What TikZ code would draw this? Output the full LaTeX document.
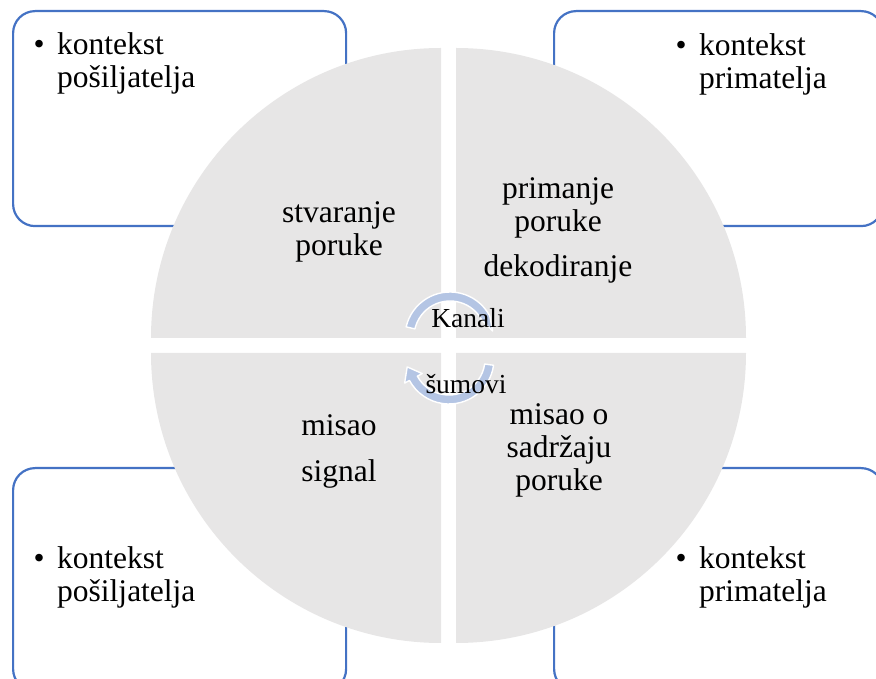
\documentclass[tikz,border=0pt]{standalone}
\usepackage{fontspec}
\setmainfont{Liberation Serif}
\definecolor{boxblue}{HTML}{4472C4}
\definecolor{quadgray}{HTML}{E7E6E6}
\definecolor{arrowblue}{HTML}{B4C5E4}
\begin{document}
\begin{tikzpicture}[x=1pt,y=1pt,
  ctxbox/.style={draw=boxblue, line width=2.2pt, fill=white, rounded corners=22pt,
                 minimum width=333pt, minimum height=215pt, inner sep=0pt},
  quad/.style={fill=quadgray},
  cyc/.style={fill=arrowblue, draw=white, line width=1.4pt, line join=round},
  bigtext/.style={inner sep=0pt, anchor=base, font=\fontsize{31.5}{33}\selectfont},
  boxtext/.style={inner sep=0pt, anchor=base west, font=\fontsize{31.5}{33}\selectfont},
  midtext/.style={inner sep=0pt, anchor=base, font=\fontsize{27.5}{30}\selectfont}
]
\useasboundingbox (0,0) rectangle (876,678);
% corner boxes
\node[ctxbox, anchor=north west] (boxTL) at (12,668) {};
\node[ctxbox, anchor=north west, minimum width=329pt] (boxTR) at (553,668) {};
\node[ctxbox, anchor=north west, minimum height=223pt] (boxBL) at (12,211) {};
\node[ctxbox, anchor=north west, minimum width=329pt, minimum height=223pt] (boxBR) at (553,211) {};
% quadrants
\fill[quad] (441,340) -- ++(-290,0) arc[start angle=180, end angle=90, radius=290] -- cycle;
\fill[quad] (456,340) -- ++(0,290) arc[start angle=90, end angle=0, radius=290] -- cycle;
\fill[quad] (441,325) -- ++(-290,0) arc[start angle=180, end angle=270, radius=290] -- cycle;
\fill[quad] (456,325) -- ++(290,0) arc[start angle=0, end angle=-90, radius=290] -- cycle;
% circular arrows
\coordinate (cu) at (450,341);
\coordinate (cl) at (449,319);
\path[cyc] ([shift={(167:45)}]cu) arc[start angle=167, end angle=28, radius=45]
  -- ([shift={(8:43)}]cu) -- ([shift={(28:36)}]cu)
  arc[start angle=28, end angle=167, radius=36] -- cycle;
\path[cyc] ([shift={(-8:45)}]cl) arc[start angle=-8, end angle=-151.5, radius=45]
  -- ([shift={(-151.5:50.5)}]cl) -- ([shift={(-41.8,-7.9)}]cl)
  -- ([shift={(-151.5:30.5)}]cl) -- ([shift={(-151.5:36)}]cl)
  arc[start angle=-151.5, end angle=-8, radius=36] -- cycle;
% box texts
\node[boxtext] (tTL) at (33.5,623)
  {\begin{tabular}[t]{@{}l@{\hspace{12.5pt}}l@{}}•&kontekst\\&pošiljatelja\end{tabular}};
\node[boxtext] (tTR) at (675.5,622)
  {\begin{tabular}[t]{@{}l@{\hspace{12.5pt}}l@{}}•&kontekst\\&primatelja\end{tabular}};
\node[boxtext] (tBL) at (33.5,110)
  {\begin{tabular}[t]{@{}l@{\hspace{12.5pt}}l@{}}•&kontekst\\&pošiljatelja\end{tabular}};
\node[boxtext] (tBR) at (675.5,110)
  {\begin{tabular}[t]{@{}l@{\hspace{12.5pt}}l@{}}•&kontekst\\&primatelja\end{tabular}};
% quadrant texts
\node[bigtext] (qTL) at (339,455)
  {\begin{tabular}[t]{@{}c@{}}stvaranje\\poruke\end{tabular}};
\node[bigtext] (qTR) at (558,479)
  {\begin{tabular}[t]{@{}c@{}}primanje\\poruke\\[12pt]dekodiranje\end{tabular}};
\node[bigtext] (qBL) at (339,242)
  {\begin{tabular}[t]{@{}c@{}}misao\\[13pt]signal\end{tabular}};
\node[bigtext] (qBR) at (559,253)
  {\begin{tabular}[t]{@{}c@{}}misao o\\sadržaju\\poruke\end{tabular}};
% centre texts
\node[midtext] (kanali) at (468,350) {Kanali};
\node[midtext] (sumovi) at (466,284) {šumovi};
\end{tikzpicture}
\end{document}
